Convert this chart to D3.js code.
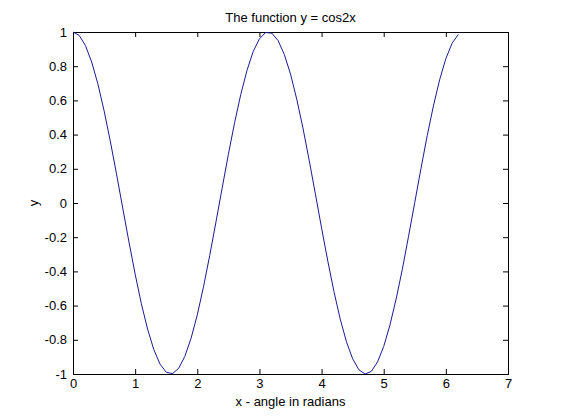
<!DOCTYPE html>
<html>
<head>
<meta charset="utf-8">
<script src="https://cdn.jsdelivr.net/npm/d3@7"></script>
<style>
  body { margin: 0; background: #fff; }
  svg text { font-family: "Liberation Sans", Arial, sans-serif; fill: #000; }
</style>
</head>
<body>
<div id="chart"></div>
<script>
// samples of the curve (x in radians)
var xs = [0, 0.1, 0.2, 0.3, 0.4, 0.5, 0.6, 0.7, 0.8, 0.9,
          1.0, 1.1, 1.2, 1.3, 1.4, 1.5, 1.6, 1.7, 1.8, 1.9,
          2.0, 2.1, 2.2, 2.3, 2.4, 2.5, 2.6, 2.7, 2.8, 2.9,
          3.0, 3.1, 3.2, 3.3, 3.4, 3.5, 3.6, 3.7, 3.8, 3.9,
          4.0, 4.1, 4.2, 4.3, 4.4, 4.5, 4.6, 4.7, 4.8, 4.9,
          5.0, 5.1, 5.2, 5.3, 5.4, 5.5, 5.6, 5.7, 5.8, 5.9,
          6.0, 6.1, 6.2];
var ys = [1.000, 0.980, 0.921, 0.825, 0.697, 0.540, 0.362, 0.170, -0.029, -0.227,
          -0.416, -0.589, -0.737, -0.857, -0.942, -0.990, -0.998, -0.967, -0.897, -0.791,
          -0.654, -0.490, -0.307, -0.112, 0.087, 0.284, 0.469, 0.635, 0.776, 0.886,
          0.960, 0.997, 0.993, 0.950, 0.869, 0.754, 0.608, 0.439, 0.251, 0.054,
          -0.146, -0.339, -0.519, -0.679, -0.811, -0.911, -0.975, -1.000, -0.985, -0.930,
          -0.839, -0.714, -0.561, -0.387, -0.194, 0.004, 0.203, 0.394, 0.568, 0.721,
          0.844, 0.934, 0.986];

var xTicks = [0, 1, 2, 3, 4, 5, 6, 7];
var yTicks = [-1, -0.8, -0.6, -0.4, -0.2, 0, 0.2, 0.4, 0.6, 0.8, 1];

var title = "The function y = cos2x";
var xLabel = "x - angle in radians";
var yLabel = "y";

var W = 561, H = 420;
var margin = {left: 73, top: 32, right: 53, bottom: 46};
var pw = W - margin.left - margin.right;
var ph = H - margin.top - margin.bottom;

var svg = d3.select("#chart").append("svg")
    .attr("width", W)
    .attr("height", H);

var g = svg.append("g")
    .attr("transform", "translate(" + margin.left + "," + margin.top + ")");

var x = d3.scaleLinear().domain([0, 7]).range([0, pw]);
var y = d3.scaleLinear().domain([-1, 1]).range([ph, 0]);

// plain hyphen for negatives, like the original
function fmt(d) { return String(+d.toFixed(1)); }

// inward ticks on all four sides, MATLAB style
var axBottom = d3.axisBottom(x).tickValues(xTicks).tickSize(-5).tickPadding(5).tickFormat(fmt);
var axTop = d3.axisTop(x).tickValues(xTicks).tickSize(-5).tickFormat("");
var axLeft = d3.axisLeft(y).tickValues(yTicks).tickSize(-5).tickPadding(6).tickFormat(fmt);
var axRight = d3.axisRight(y).tickValues(yTicks).tickSize(-5).tickFormat("");

g.append("g").attr("transform", "translate(0," + ph + ")").call(axBottom);
g.append("g").call(axTop);
g.append("g").call(axLeft);
g.append("g").attr("transform", "translate(" + pw + ",0)").call(axRight);

g.selectAll(".domain").attr("stroke", "#000").attr("stroke-width", 1);
g.selectAll(".tick line").attr("stroke", "#000");
g.selectAll(".tick text")
    .style("font-size", "13px")
    .style("font-family", "'Liberation Sans', Arial, sans-serif");

var line = d3.line()
    .x(function(d, i) { return x(xs[i]); })
    .y(function(d) { return y(d); });

g.append("path")
    .datum(ys)
    .attr("d", line)
    .attr("fill", "none")
    .attr("stroke", "#1a1a96")
    .attr("stroke-width", 1);

svg.append("text")
    .attr("x", margin.left + pw / 2)
    .attr("y", 22)
    .attr("text-anchor", "middle")
    .style("font-size", "13px")
    .text(title);

svg.append("text")
    .attr("x", margin.left + pw / 2)
    .attr("y", 406)
    .attr("text-anchor", "middle")
    .style("font-size", "13px")
    .text(xLabel);

svg.append("text")
    .attr("transform", "translate(38," + (margin.top + ph / 2) + ") rotate(-90)")
    .attr("text-anchor", "middle")
    .style("font-size", "13px")
    .text(yLabel);
</script>
</body>
</html>
